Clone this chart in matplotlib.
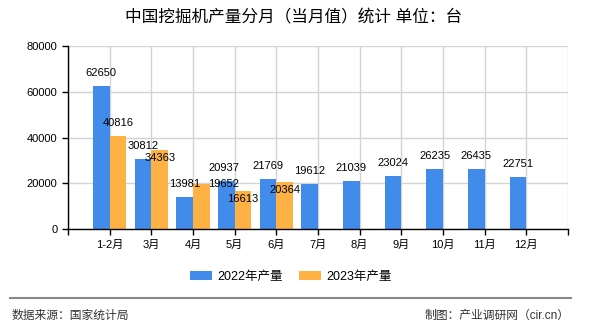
import numpy as np
import matplotlib
matplotlib.use('Agg')
import matplotlib.pyplot as plt
from matplotlib.lines import Line2D

plt.rcParams['font.family'] = ['Liberation Sans', 'Noto Sans CJK SC']

# 数据
months = ['1-2月', '3月', '4月', '5月', '6月', '7月', '8月', '9月', '10月', '11月', '12月']
prod_2022 = [62650, 30812, 13981, 20937, 21769, 19612, 21039, 23024, 26235, 26435, 22751]
prod_2023 = [40816, 34363, 19652, 16613, 20364]

c22 = '#418bea'
c23 = '#fdb243'

fig = plt.figure(figsize=(5.9, 3.3), dpi=100)
ax = fig.add_axes([68/590, 1-229/330, 500/590, 183/330])

x = np.arange(len(months))
x23 = np.arange(len(prod_2023))
w = 0.4
b1 = ax.bar(x - w/2, prod_2022, width=w, color=c22, label='2022年产量', zorder=2)
b2 = ax.bar(x23 + w/2, prod_2023, width=w, color=c23, label='2023年产量', zorder=2)

# 数值标签 (偏移, 像素)
off22 = {3: (-2, 13)}
off23 = {1: (0, -8), 2: (22, 0), 3: (0, -8), 4: (0, -8)}
for i, v in enumerate(prod_2022):
    dx, dy = off22.get(i, (0, 13))
    ax.annotate(str(v), (x[i] - w/2, v), xytext=(dx, dy), textcoords='offset pixels',
                ha='center', va='center', fontsize=8, zorder=3)
for i, v in enumerate(prod_2023):
    dx, dy = off23.get(i, (0, 13))
    ax.annotate(str(v), (x23[i] + w/2, v), xytext=(dx, dy), textcoords='offset pixels',
                ha='center', va='center', fontsize=8, zorder=3)

ax.set_xlim(-1, len(months))
ax.set_ylim(0, 80000)
ax.set_yticks(np.arange(0, 80001, 20000))
ax.set_xticks(np.arange(-1, len(months) + 1))
ax.set_xticklabels([''] + months + [''])
ax.tick_params(axis='both', labelsize=8, length=4, width=1, color='black', direction='out')
ax.grid(True, color='#d3d3d3', lw=1, zorder=0)
for s in ['top', 'right']:
    ax.spines[s].set_visible(False)
for s in ['left', 'bottom']:
    ax.spines[s].set_linewidth(1)
    ax.spines[s].set_zorder(4)

fig.text(294/590, 1-17/330, '中国挖掘机产量分月（当月值）统计 单位：台',
         ha='center', va='center', fontsize=12)

fig.legend(handles=[b1, b2], loc='center', bbox_to_anchor=(291/590, 1-277/330), ncol=2,
           frameon=False, fontsize=9, handlelength=1.76, handleheight=0.7,
           handletextpad=0.4, columnspacing=1.3)

fig.add_artist(Line2D([10/590, 571/590], [1-298/330, 1-298/330], color='#888888', lw=1.5,
                      transform=fig.transFigure))
fig.text(12/590, 1-316/330, '数据来源：国家统计局', ha='left', va='center', fontsize=8.5, color='#333333')
fig.text(570/590, 1-316/330, '制图：产业调研网（cir.cn）', ha='right', va='center', fontsize=8.5, color='#333333')

fig.savefig('out.png', dpi=100)
